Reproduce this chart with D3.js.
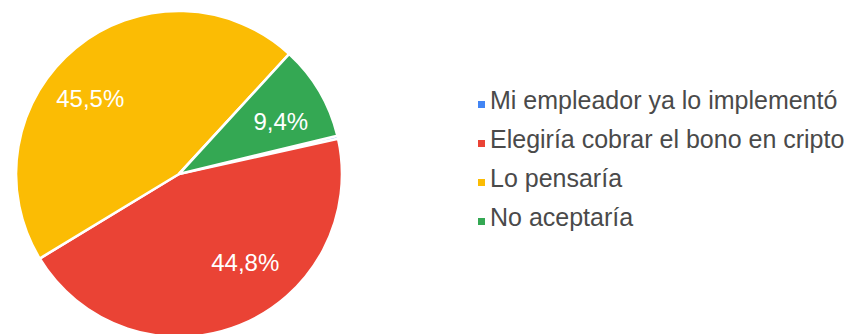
<!DOCTYPE html>
<html lang="es">
<head>
<meta charset="utf-8">
<title>Encuesta: bono en cripto</title>
<script src="https://cdn.jsdelivr.net/npm/d3@7"></script>
<style>
  html, body { margin: 0; padding: 0; background: #fff; }
  svg { display: block; }
  text { font-family: "Liberation Sans", Arial, sans-serif; }
</style>
</head>
<body>
<svg id="chart" width="858" height="334"></svg>
<script>
// Survey answers and their share of responses (%)
const categories = [
  "Mi empleador ya lo implementó",
  "Elegiría cobrar el bono en cripto",
  "Lo pensaría",
  "No aceptaría"
];
const shares = [0.3, 44.8, 45.5, 9.4];
const sliceColors = ["#4285f4", "#ea4335", "#fbbc04", "#34a853"];

const cx = 179, cy = 174, radius = 163;
const startDeg = 76.4;          // rotation of the first slice, clockwise from 12 o'clock
const labelFont = 24;
const legendFont = 25;

const svg = d3.select("#chart");

const rows = categories.map((c, i) => ({ name: c, value: shares[i], color: sliceColors[i] }));

const a0 = startDeg * Math.PI / 180;
const pie = d3.pie()
  .sort(null)
  .value(d => d.value)
  .startAngle(a0)
  .endAngle(a0 + 2 * Math.PI);

const arcs = pie(rows);
const arc = d3.arc().innerRadius(0).outerRadius(radius);

const g = svg.append("g").attr("transform", `translate(${cx},${cy})`);

g.selectAll("path.slice")
  .data(arcs)
  .join("path")
  .attr("class", "slice")
  .attr("d", arc)
  .attr("fill", d => d.data.color)
  .attr("stroke", "#fff")
  .attr("stroke-width", 2.6)
  .attr("stroke-linejoin", "round");

// Percentage labels: the corner of the text box nearest the centre sits on the slice's mid ray
const fmt = v => d3.format(".1f")(v).replace(".", ",") + "%";
const labelR = radius * 0.53;
const capH = 0.716 * labelFont;

g.selectAll("text.pct")
  .data(arcs.filter(d => d.data.value >= 1))
  .join("text")
  .attr("class", "pct")
  .each(function(d) {
    const mid = (d.startAngle + d.endAngle) / 2;
    const px = Math.sin(mid) * labelR;
    const py = -Math.cos(mid) * labelR;
    d3.select(this)
      .attr("x", px)
      .attr("y", py < 0 ? py : py + capH)
      .attr("text-anchor", px >= 0 ? "start" : "end");
  })
  .attr("font-size", labelFont)
  .attr("fill", "#fff")
  .text(d => fmt(d.data.value));

// Legend
const legendX = 478, legendY0 = 109, legendStep = 39, sw = 7;
const legend = svg.append("g")
  .selectAll("g")
  .data(rows)
  .join("g")
  .attr("transform", (d, i) => `translate(${legendX},${legendY0 + i * legendStep})`);

legend.append("rect")
  .attr("x", 0)
  .attr("y", -sw - 1)
  .attr("width", sw)
  .attr("height", sw)
  .attr("fill", d => d.color);

legend.append("text")
  .attr("x", sw + 5)
  .attr("y", 0)
  .attr("font-size", legendFont)
  .attr("fill", "#4a4a4a")
  .text(d => d.name);
</script>
</body>
</html>
